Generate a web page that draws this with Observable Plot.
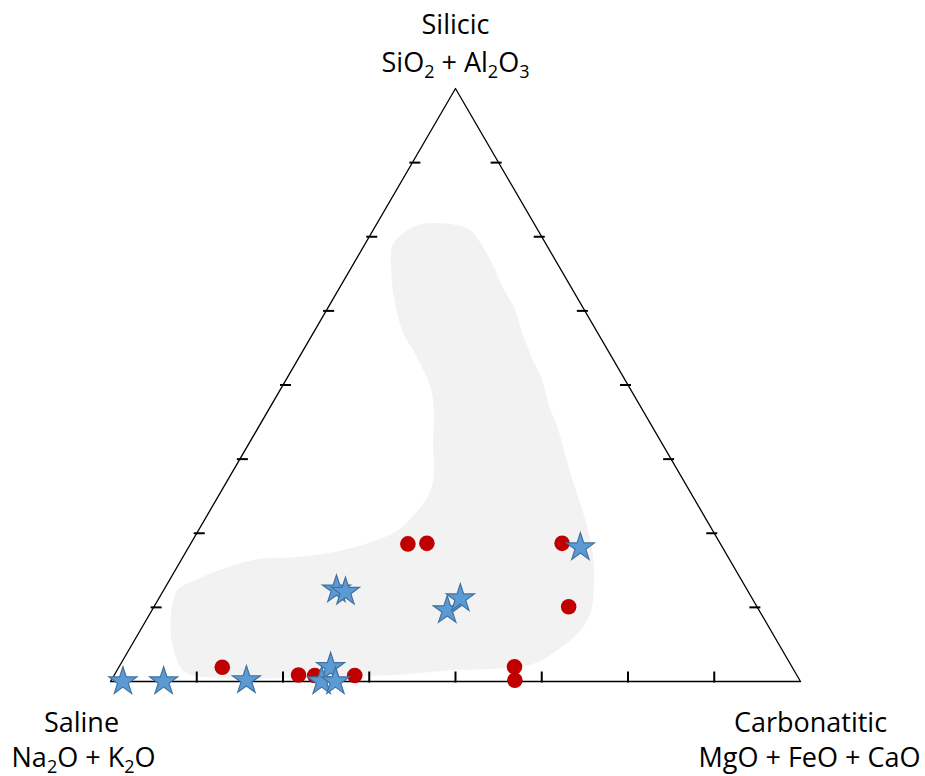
<!DOCTYPE html>
<html><head><meta charset="utf-8">
<script src="https://cdn.jsdelivr.net/npm/d3@7"></script>
<script src="https://cdn.jsdelivr.net/npm/@observablehq/plot@0.6"></script>
<style>body{margin:0;background:#fff}</style>
</head><body><div id="chart"></div><script>
// Ternary end-members
const vertexNames = ["Saline", "Carbonatitic", "Silicic"];
const vertexFormulas = ["Na_2O + K_2O", "MgO + FeO + CaO", "SiO_2 + Al_2O_3"];
// tick positions along each side (fraction of side)
const tickFractions = [0.125, 0.25, 0.375, 0.5, 0.625, 0.75, 0.875];

// Red circles: carbonatitic %, silicic % (saline = remainder)
const circleCarb = [15.0, 26.7, 29.1, 34.9, 31.5, 34.2, 53.8, 60.1, 57.3, 58.5];
const circleSil  = [2.4, 1.1, 1.0, 1.0, 23.2, 23.3, 23.3, 12.6, 2.5, 0.2];

// Blue stars: carbonatitic %, silicic %
const starCarb = [1.8, 7.7, 19.6, 30.7, 30.6, 32.6, 25.0, 26.5, 42.8, 43.7, 56.8];
const starSil  = [0.0, 0.0, 0.2, 2.4, 0.0, 0.0, 15.5, 15.1, 12.0, 14.0, 22.6];

// Grey field outline: carbonatitic %, silicic %
const fieldCarb = [4.4, 4.1, 6.7, 9.8, 13.1, 16.0, 19.1, 21.6, 24.0, 26.7, 29.3, 30.3, 30.1, 28.9, 25.6, 21.4, 15.6, 11.4, 8.0, 4.3, 2.0, 2.4, 4.4, 7.4, 9.5, 11.5, 39.1, 48.4, 55.4, 59.8, 62.4, 63.8, 63.8, 62.1, 59.1, 56.1, 53.1, 49.8, 47.1, 43.4, 40.0, 37.2, 34.2, 30.9, 26.9, 23.7, 19.6, 16.6, 14.1, 12.0, 6.4];
const fieldSil  = [75.2, 73.5, 68.1, 63.1, 58.7, 55.8, 52.5, 49.6, 45.7, 40.1, 35.1, 32.2, 28.8, 25.5, 23.3, 21.8, 20.9, 20.7, 19.6, 17.5, 15.4, 13.2, 8.6, 4.1, 1.9, 1.0, 1.0, 1.9, 2.2, 3.0, 5.7, 8.6, 11.5, 15.9, 21.6, 26.0, 30.0, 34.2, 37.8, 42.8, 46.9, 50.8, 54.1, 58.0, 63.1, 66.4, 71.0, 74.0, 76.1, 76.9, 77.1];

const W = 925, H = 776, mL = 110, mR = 125, mT = 88, mB = 95;
const innerW = W - mL - mR, innerH = H - mT - mB;
const toXY = (c, s) => ({x: (c + s / 2) / 100, y: s / 100});

const circles = circleCarb.map((c, i) => toXY(c, circleSil[i]));
const stars = starCarb.map((c, i) => toXY(c, starSil[i]));
const field = fieldCarb.map((c, i) => toXY(c, fieldSil[i]));
const triangle = [toXY(0, 0), toXY(100, 0), toXY(0, 100), toXY(0, 0)];

const px = 1 / innerW, py = 1 / innerH;
const ticks = [
  ...tickFractions.map(f => ({x1: f, x2: f, y1: -1 * py, y2: 10 * py})),
  ...tickFractions.map(f => ({x1: f / 2 - 3 * px, x2: f / 2 + 8 * px, y1: f, y2: f})),
  ...tickFractions.map(f => ({x1: 1 - f / 2 - 8 * px, x2: 1 - f / 2 + 3 * px, y1: f, y2: f}))
];

const verts = [toXY(0, 0), toXY(100, 0), toXY(0, 100)];
const labels = [
  {...verts[0], text: vertexNames[0], dx: -29, dy: 50},
  {...verts[0], text: vertexFormulas[0], dx: -27, dy: 85},
  {...verts[1], text: vertexNames[1], dx: 10, dy: 50},
  {...verts[1], text: vertexFormulas[1], dx: 9, dy: 85},
  {...verts[2], text: vertexNames[2], dx: 0, dy: -55},
  {...verts[2], text: vertexFormulas[2], dx: 0, dy: -17}
];

const chart = Plot.plot({
  width: W, height: H,
  marginLeft: mL, marginRight: mR, marginTop: mT, marginBottom: mB,
  x: {domain: [0, 1], axis: null},
  y: {domain: [0, 1], axis: null},
  style: {fontFamily: "Open Sans", background: "#fff"},
  marks: [
    Plot.line(field, {x: "x", y: "y", fill: "#f2f2f2", stroke: "none", curve: "catmull-rom-closed"}),
    Plot.line(triangle, {x: "x", y: "y", stroke: "#000", strokeWidth: 1.3}),
    Plot.link(ticks, {x1: "x1", y1: "y1", x2: "x2", y2: "y2", stroke: "#000", strokeWidth: 2}),
    Plot.dot(circles, {x: "x", y: "y", r: 7.8, fill: "#c00000", stroke: "none"}),
    Plot.dot(stars, {x: "x", y: "y", r: 8.8, symbol: "star", fill: "#5b9bd5", stroke: "#41719c", strokeWidth: 1.2}),
    ...labels.map(l => Plot.text([l], {x: "x", y: "y", text: "text", dx: l.dx, dy: l.dy, lineAnchor: "bottom", textAnchor: "middle", fontSize: 27, fill: "#000"}))
  ]
});

// subscripts
d3.select(chart).selectAll("text").each(function() {
  const t = this.textContent;
  if (!t.includes("_")) return;
  const el = d3.select(this);
  el.text(null);
  const parts = t.split(/_(\d)/);
  let shifted = false;
  parts.forEach((p, i) => {
    if (p === "") return;
    if (i % 2 === 1) {
      el.append("tspan").attr("font-size", 18).attr("dy", shifted ? 0 : 6).text(p);
      shifted = true;
    } else {
      el.append("tspan").attr("dy", shifted ? -6 : 0).text(p);
      shifted = false;
    }
  });
});

document.getElementById("chart").appendChild(chart);
</script></body></html>
